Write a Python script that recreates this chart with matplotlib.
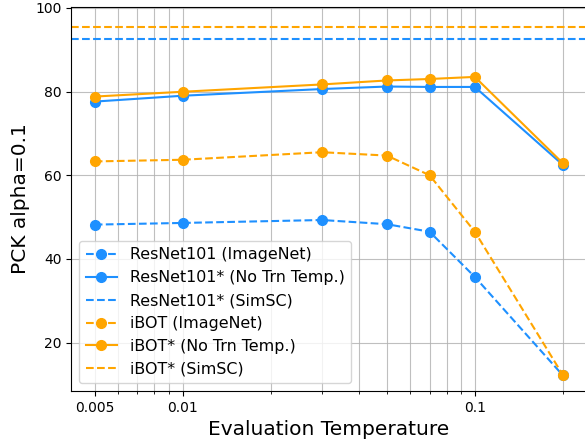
import matplotlib
matplotlib.use("Agg")
import matplotlib.pyplot as plt
from matplotlib.ticker import FixedLocator, FixedFormatter, NullFormatter, MultipleLocator

# ── Data ──────────────────────────────────────────────────────────────────────
temps = [0.005, 0.01, 0.03, 0.05, 0.07, 0.1, 0.2]

resnet_imagenet = [48.2, 48.6, 49.3, 48.3, 46.5, 35.7, 12.2]
resnet_no_trn = [77.6, 79.0, 80.6, 81.2, 81.1, 81.1, 62.5]
resnet_simsc = 92.5

ibot_imagenet = [63.3, 63.7, 65.5, 64.7, 60.0, 46.5, 12.3]
ibot_no_trn = [78.8, 79.95, 81.7, 82.65, 83.0, 83.5, 62.9]
ibot_simsc = 95.5

xtick_vals = [0.005, 0.01, 0.1]
xtick_labels = ["0.005", "0.01", "0.1"]

BLUE = "#1e90ff"
ORANGE = "#ffa500"

fig = plt.figure(figsize=(5.85, 4.4), dpi=100)
ax = fig.add_axes([0.122, 0.111, 0.880, 0.874])

ax.plot(temps, resnet_imagenet, "o--", color=BLUE, lw=1.5, ms=7,
        label="ResNet101 (ImageNet)")
ax.plot(temps, resnet_no_trn, "o-", color=BLUE, lw=1.5, ms=7,
        label="ResNet101* (No Trn Temp.)")
ax.axhline(resnet_simsc, color=BLUE, lw=1.5, ls="--",
           label="ResNet101* (SimSC)")
ax.plot(temps, ibot_imagenet, "o--", color=ORANGE, lw=1.5, ms=7,
        label="iBOT (ImageNet)")
ax.plot(temps, ibot_no_trn, "o-", color=ORANGE, lw=1.5, ms=7,
        label="iBOT* (No Trn Temp.)")
ax.axhline(ibot_simsc, color=ORANGE, lw=1.5, ls="--",
           label="iBOT* (SimSC)")

ax.set_xscale("log")
ax.xaxis.set_major_locator(FixedLocator(xtick_vals))
ax.xaxis.set_major_formatter(FixedFormatter(xtick_labels))
ax.xaxis.set_minor_formatter(NullFormatter())
ax.yaxis.set_major_locator(MultipleLocator(20))
ax.set_ylim(8.4, 100.3)
ax.tick_params(labelsize=10)
ax.grid(True, which="both", color="#b0b0b0", lw=0.8, alpha=0.8)

ax.set_xlabel("Evaluation Temperature", fontsize=14.5)
ax.set_ylabel("PCK alpha=0.1", fontsize=14.5)
ax.legend(loc="lower left", fontsize=11.4)

fig.savefig("out.png", dpi=100)
